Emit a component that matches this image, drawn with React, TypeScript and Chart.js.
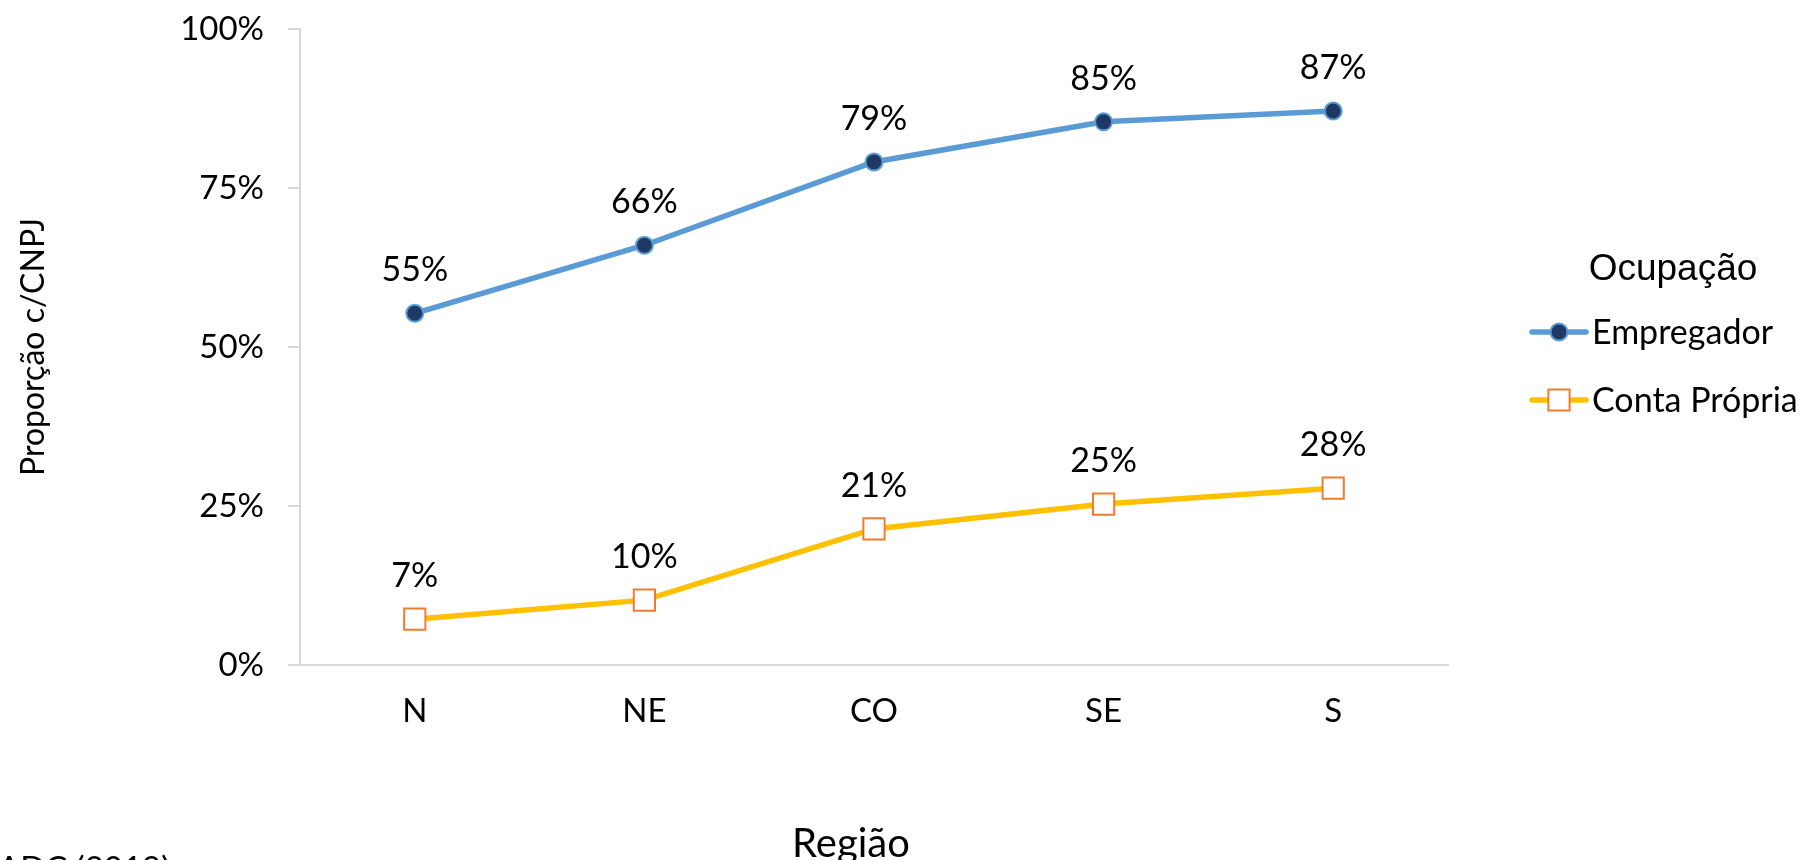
import React, { useEffect, useRef } from "react";
import { Chart, registerables } from "chart.js";

Chart.register(...registerables);

const categories = ["N", "NE", "CO", "SE", "S"];
const empregador = [55.3, 66.0, 79.1, 85.4, 87.1];
const contaPropria = [7.2, 10.2, 21.4, 25.3, 27.8];
const yTicks = [0, 25, 50, 75, 100];
const seriesNames = ["Empregador", "Conta Própria"];
const legendTitle = "Ocupação";
const xTitle = "Região";
const yTitle = "Proporção c/CNPJ";
const sourceNote = "Fonte: PNADC (2019)";

const FONT = "Lato, 'Open Sans', sans-serif";
const TICK_SIZE = 33;
const LABEL_SIZE = 34;
const LEGEND_SIZE = 34;
const XTITLE_SIZE = 40;
const YTITLE_SIZE = 32;

const overlay = {
  id: "overlay",
  afterDatasetsDraw(chart: any) {
    const ctx = chart.ctx as CanvasRenderingContext2D;
    ctx.save();
    ctx.font = `${LABEL_SIZE}px ${FONT}`;
    ctx.fillStyle = "#000";
    ctx.textAlign = "center";
    ctx.textBaseline = "middle";
    chart.data.datasets.forEach((ds: any, i: number) => {
      const meta = chart.getDatasetMeta(i);
      meta.data.forEach((pt: any, j: number) => {
        const v = ds.data[j] as number;
        ctx.fillText(Math.round(v) + "%", pt.x, pt.y - 43);
      });
    });
    ctx.restore();
  },
  afterDraw(chart: any) {
    const ctx = chart.ctx as CanvasRenderingContext2D;
    ctx.save();
    // x title
    ctx.font = `${XTITLE_SIZE}px ${FONT}`;
    ctx.fillStyle = "#000";
    ctx.textAlign = "center";
    ctx.textBaseline = "alphabetic";
    ctx.fillText(xTitle, 851, 857);
    // source note (mostly cut by the bottom edge)
    ctx.font = `${TICK_SIZE}px ${FONT}`;
    ctx.textAlign = "right";
    ctx.fillText(sourceNote, 170, 880);

    // legend
    ctx.font = `37px 'Liberation Sans', Arial, sans-serif`;
    ctx.textAlign = "center";
    ctx.textBaseline = "middle";
    ctx.fillText(legendTitle, 1673, 270);
    const rows = [332, 400];
    chart.data.datasets.forEach((ds: any, i: number) => {
      const y = rows[i];
      ctx.strokeStyle = ds.borderColor;
      ctx.lineWidth = ds.borderWidth;
      ctx.lineCap = "round";
      ctx.beginPath();
      ctx.moveTo(1532, y);
      ctx.lineTo(1586, y);
      ctx.stroke();
      const cx = 1559;
      ctx.lineWidth = ds.pointBorderWidth;
      ctx.strokeStyle = ds.pointBorderColor;
      ctx.fillStyle = ds.pointBackgroundColor;
      ctx.beginPath();
      if (ds.pointStyle === "rect") {
        const s = ds.pointRadius * Math.SQRT1_2;
        ctx.rect(cx - s, y - s, 2 * s, 2 * s);
      } else {
        ctx.arc(cx, y, ds.pointRadius, 0, Math.PI * 2);
      }
      ctx.fill();
      ctx.stroke();
      ctx.fillStyle = "#000";
      ctx.font = `${LEGEND_SIZE}px ${FONT}`;
      ctx.textAlign = "left";
      ctx.fillText(ds.label, 1592, y + 1);
    });
    ctx.restore();
  },
};

export default function App() {
  const ref = useRef<HTMLCanvasElement | null>(null);
  useEffect(() => {
    document.body.style.margin = "0";
    if (!ref.current) return;
    const chart = new Chart(ref.current, {
      type: "line",
      data: {
        labels: categories,
        datasets: [
          {
            label: seriesNames[0],
            data: empregador,
            borderColor: "#5B9BD5",
            borderWidth: 5.5,
            pointStyle: "circle",
            pointRadius: 8.5,
            pointHoverRadius: 8.5,
            pointBackgroundColor: "#1F3864",
            pointBorderColor: "#5B9BD5",
            pointBorderWidth: 2,
            tension: 0,
            fill: false,
          },
          {
            label: seriesNames[1],
            data: contaPropria,
            borderColor: "#FFC000",
            borderWidth: 5.5,
            pointStyle: "rect",
            pointRadius: 15,
            pointHoverRadius: 15,
            pointBackgroundColor: "#FFFFFF",
            pointBorderColor: "#ED7D31",
            pointBorderWidth: 2,
            tension: 0,
            fill: false,
          },
        ] as any,
      },
      options: {
        animation: false,
        responsive: false,
        devicePixelRatio: 1,
        layout: { padding: { top: 29, right: 356, bottom: 0, left: 0 } },
        plugins: {
          legend: { display: false },
          tooltip: { enabled: false },
        },
        scales: {
          x: {
            type: "category",
            offset: true,
            grid: { display: false, drawTicks: false },
            border: { display: true, color: "#D9D9D9", width: 2 },
            ticks: {
              padding: 27,
              color: "#000",
              font: { family: FONT, size: TICK_SIZE },
              maxRotation: 0,
            },
            afterFit: (s: any) => {
              s.height = 195;
              s.paddingLeft = 0;
              s.paddingRight = 0;
            },
          },
          y: {
            min: 0,
            max: 100,
            grid: {
              display: true,
              drawOnChartArea: false,
              drawTicks: true,
              tickLength: 12,
              color: "#D9D9D9",
              lineWidth: 2,
            },
            border: { display: true, color: "#D9D9D9", width: 2 },
            ticks: {
              padding: 24,
              color: "#000",
              font: { family: FONT, size: TICK_SIZE },
              callback: (v: any) => v + "%",
            },
            afterBuildTicks: (s: any) => {
              s.ticks = yTicks.map((v) => ({ value: v }));
            },
            title: {
              display: true,
              text: yTitle,
              color: "#000",
              font: { family: FONT, size: YTITLE_SIZE },
              padding: { top: 14, bottom: 0 },
            },
            afterFit: (s: any) => {
              s.width = 300;
              s.paddingTop = 0;
              s.paddingBottom = 0;
            },
          },
        },
      } as any,
      plugins: [overlay],
    });
    return () => chart.destroy();
  }, []);
  return (
    <div style={{ position: "absolute", left: 0, top: 0, width: 1804, height: 860, overflow: "hidden", background: "#fff" }}>
      <canvas ref={ref} width={1804} height={860} style={{ display: "block" }} />
    </div>
  );
}
